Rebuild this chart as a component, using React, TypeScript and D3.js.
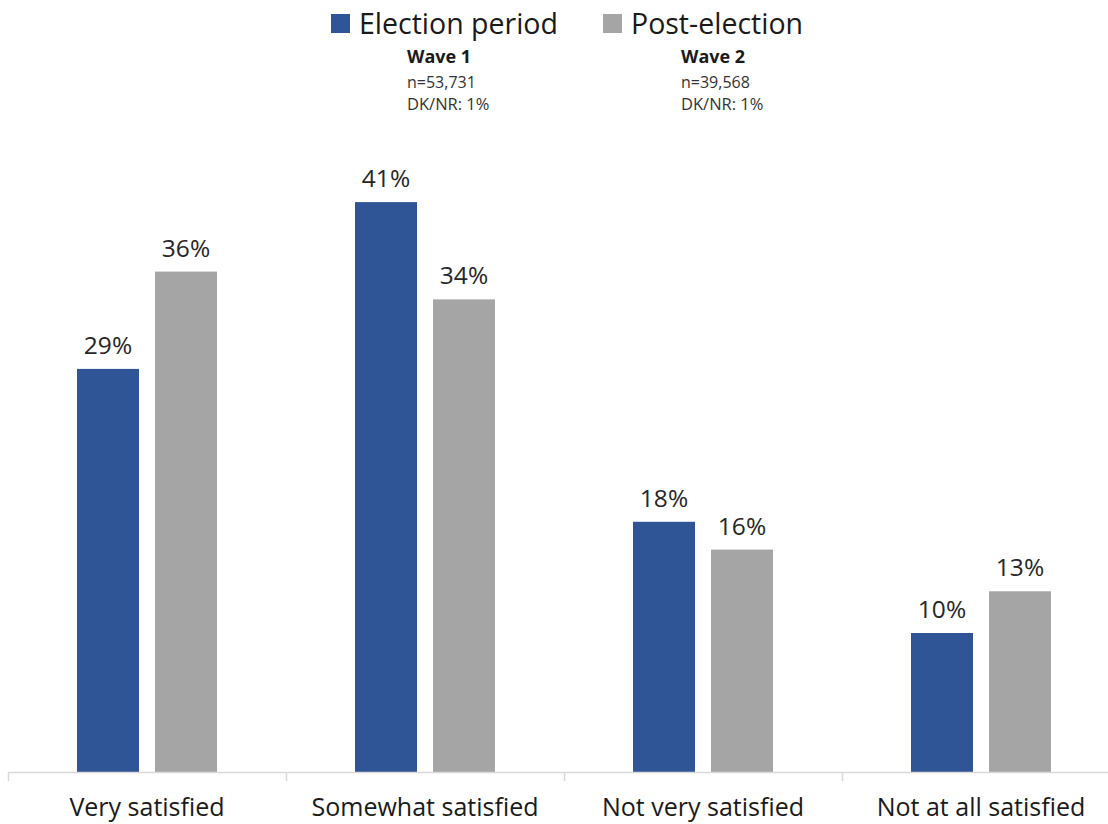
import React from "react";
import * as d3 from "d3";

const categories = ["Very satisfied", "Somewhat satisfied", "Not very satisfied", "Not at all satisfied"];
const seriesNames = ["Election period", "Post-election"];
const electionPeriod = [29, 41, 18, 10];
const postElection = [36, 34, 16, 13];
const waveTitles = ["Wave 1", "Wave 2"];
const waveN = ["n=53,731", "n=39,568"];
const waveDK = ["DK/NR: 1%", "DK/NR: 1%"];
const colors = ["#2F5597", "#A5A5A5"];

const W = 1108;
const H = 824;
const FONT = "'Open Sans', 'Noto Sans', sans-serif";

export default function App() {
  const x = d3.scaleBand<string>().domain(categories).range([8, 1120]).padding(0);
  const xs = d3
    .scaleBand<string>()
    .domain(seriesNames)
    .range([69, 209])
    .paddingInner(16 / 78)
    .paddingOuter(0);
  const y = d3.scaleLinear().domain([0, 45]).range([772, 772 - 45 * 13.9]);
  const series = [electionPeriod, postElection];

  const legendX = [331, 603];
  const waveX = [407, 681];

  return (
    <svg
      width={W}
      height={H}
      style={{ position: "absolute", left: 0, top: 0, background: "#fff" }}
      fontFamily={FONT}
    >
      {/* Legend */}
      {seriesNames.map((s, i) => (
        <g key={s}>
          <rect x={legendX[i]} y={14} width={19} height={19} fill={colors[i]} />
          <text x={legendX[i] + 28} y={33.5} fontSize={28.5} fill="#1a1a1a">
            {s}
          </text>
          <text x={waveX[i]} y={62.5} fontSize={18} fontWeight={700} fill="#1a1a1a">
            {waveTitles[i]}
          </text>
          <text x={waveX[i]} y={87.5} fontSize={16} fill="#333">
            {waveN[i]}
          </text>
          <text x={waveX[i]} y={110} fontSize={16.5} fill="#333">
            {waveDK[i]}
          </text>
        </g>
      ))}

      {/* Bars */}
      {categories.map((c, ci) => (
        <g key={c} transform={`translate(${x(c)},0)`}>
          {seriesNames.map((s, si) => {
            const v = series[si][ci];
            const bx = xs(s)!;
            const bw = xs.bandwidth();
            return (
              <g key={s}>
                <rect x={bx} y={y(v)} width={bw} height={y(0) - y(v)} fill={colors[si]} />
                <text
                  x={bx + bw / 2}
                  y={y(v) - 15}
                  textAnchor="middle"
                  fontSize={24.5}
                  fill="#262626"
                >
                  {`${v}%`}
                </text>
              </g>
            );
          })}
        </g>
      ))}

      {/* Axis */}
      <line x1={8} x2={1120} y1={772.5} y2={772.5} stroke="#D9D9D9" strokeWidth={1.5} />
      {categories.map((c) => (
        <line
          key={c}
          x1={x(c)! + 0.5}
          x2={x(c)! + 0.5}
          y1={772}
          y2={781}
          stroke="#D9D9D9"
          strokeWidth={1.5}
        />
      ))}
      {categories.map((c) => (
        <text
          key={c}
          x={x(c)! + x.bandwidth() / 2}
          y={816}
          textAnchor="middle"
          fontSize={25}
          fill="#1a1a1a"
        >
          {c}
        </text>
      ))}
    </svg>
  );
}
